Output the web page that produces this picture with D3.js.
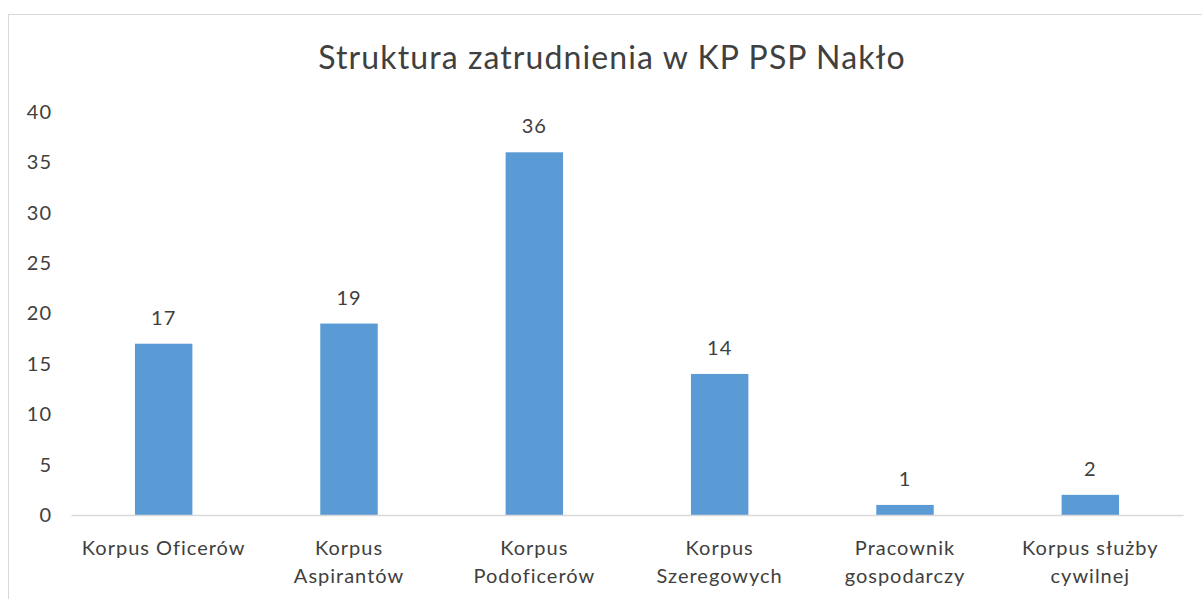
<!DOCTYPE html>
<html>
<head>
<meta charset="utf-8">
<script src="https://cdn.jsdelivr.net/npm/d3@7"></script>
<style>
html,body{margin:0;padding:0;background:#fff;}
svg{display:block;}
text{font-family:Lato, "Open Sans", sans-serif;fill:#404040;}
</style>
</head>
<body>
<svg id="chart" width="1202" height="599"></svg>
<script>
const title = "Struktura zatrudnienia w KP PSP Nakło";
const categories = [
  ["Korpus Oficerów"],
  ["Korpus", "Aspirantów"],
  ["Korpus", "Podoficerów"],
  ["Korpus", "Szeregowych"],
  ["Pracownik", "gospodarczy"],
  ["Korpus służby", "cywilnej"]
];
const values = [17, 19, 36, 14, 1, 2];
const yTicks = [0, 5, 10, 15, 20, 25, 30, 35, 40];

(function () {
const W = 1202, H = 599;
const svg = d3.select("#chart");
const pLeft = 71, pRight = 1183, pTop = 112, pBottom = 515;

svg.append("rect").attr("x", 8.5).attr("y", 14.5).attr("width", W + 10).attr("height", H + 10)
  .attr("fill", "#fff").attr("stroke", "#d9d9d9").attr("stroke-width", 1);

svg.append("text").attr("x", 612).attr("y", 69).attr("text-anchor", "middle")
  .style("font-size", "32px").style("letter-spacing", "1.1px").text(title);

const x = d3.scaleBand().domain(d3.range(categories.length)).range([pLeft, pRight])
  .paddingInner(0.69).paddingOuter(0.345);
const y = d3.scaleLinear().domain([0, 40]).range([pBottom, pTop]);

// y axis labels
const yAxis = d3.axisLeft(y).tickValues(yTicks).tickSize(0).tickPadding(0);
const yg = svg.append("g").attr("transform", `translate(${52},0)`).call(yAxis);
yg.select(".domain").remove();
yg.selectAll("text").style("font-size", "20px").style("font-family", "Lato, sans-serif")
  .style("letter-spacing", "1px").attr("fill", "#404040");

// bars
svg.append("g").selectAll("rect").data(values).join("rect")
  .attr("x", (d, i) => x(i)).attr("width", x.bandwidth())
  .attr("y", d => y(d)).attr("height", d => y(0) - y(d))
  .attr("fill", "#5B9BD5");

// baseline
const xAxis = d3.axisBottom(x).tickSize(0).tickFormat("");
const xg = svg.append("g").attr("transform", `translate(0,${pBottom})`).call(xAxis);
xg.select(".domain").attr("stroke", "#d9d9d9").attr("stroke-width", 1.3);

// category labels
const cl = svg.append("g").selectAll("text").data(categories).join("text")
  .attr("x", (d, i) => x(i) + x.bandwidth() / 2).attr("y", 555)
  .attr("text-anchor", "middle").style("font-size", "20px").style("letter-spacing", "1px");
cl.selectAll("tspan").data(d => d).join("tspan")
  .attr("x", function () { return d3.select(this.parentNode).attr("x"); })
  .attr("dy", (d, i) => i === 0 ? 0 : 28).text(d => d);

// data labels
svg.append("g").selectAll("text").data(values).join("text")
  .attr("x", (d, i) => x(i) + x.bandwidth() / 2).attr("y", d => y(d) - 19)
  .attr("text-anchor", "middle").style("font-size", "20px").style("letter-spacing", "1px").text(d => d);
})();
</script>
</body>
</html>
